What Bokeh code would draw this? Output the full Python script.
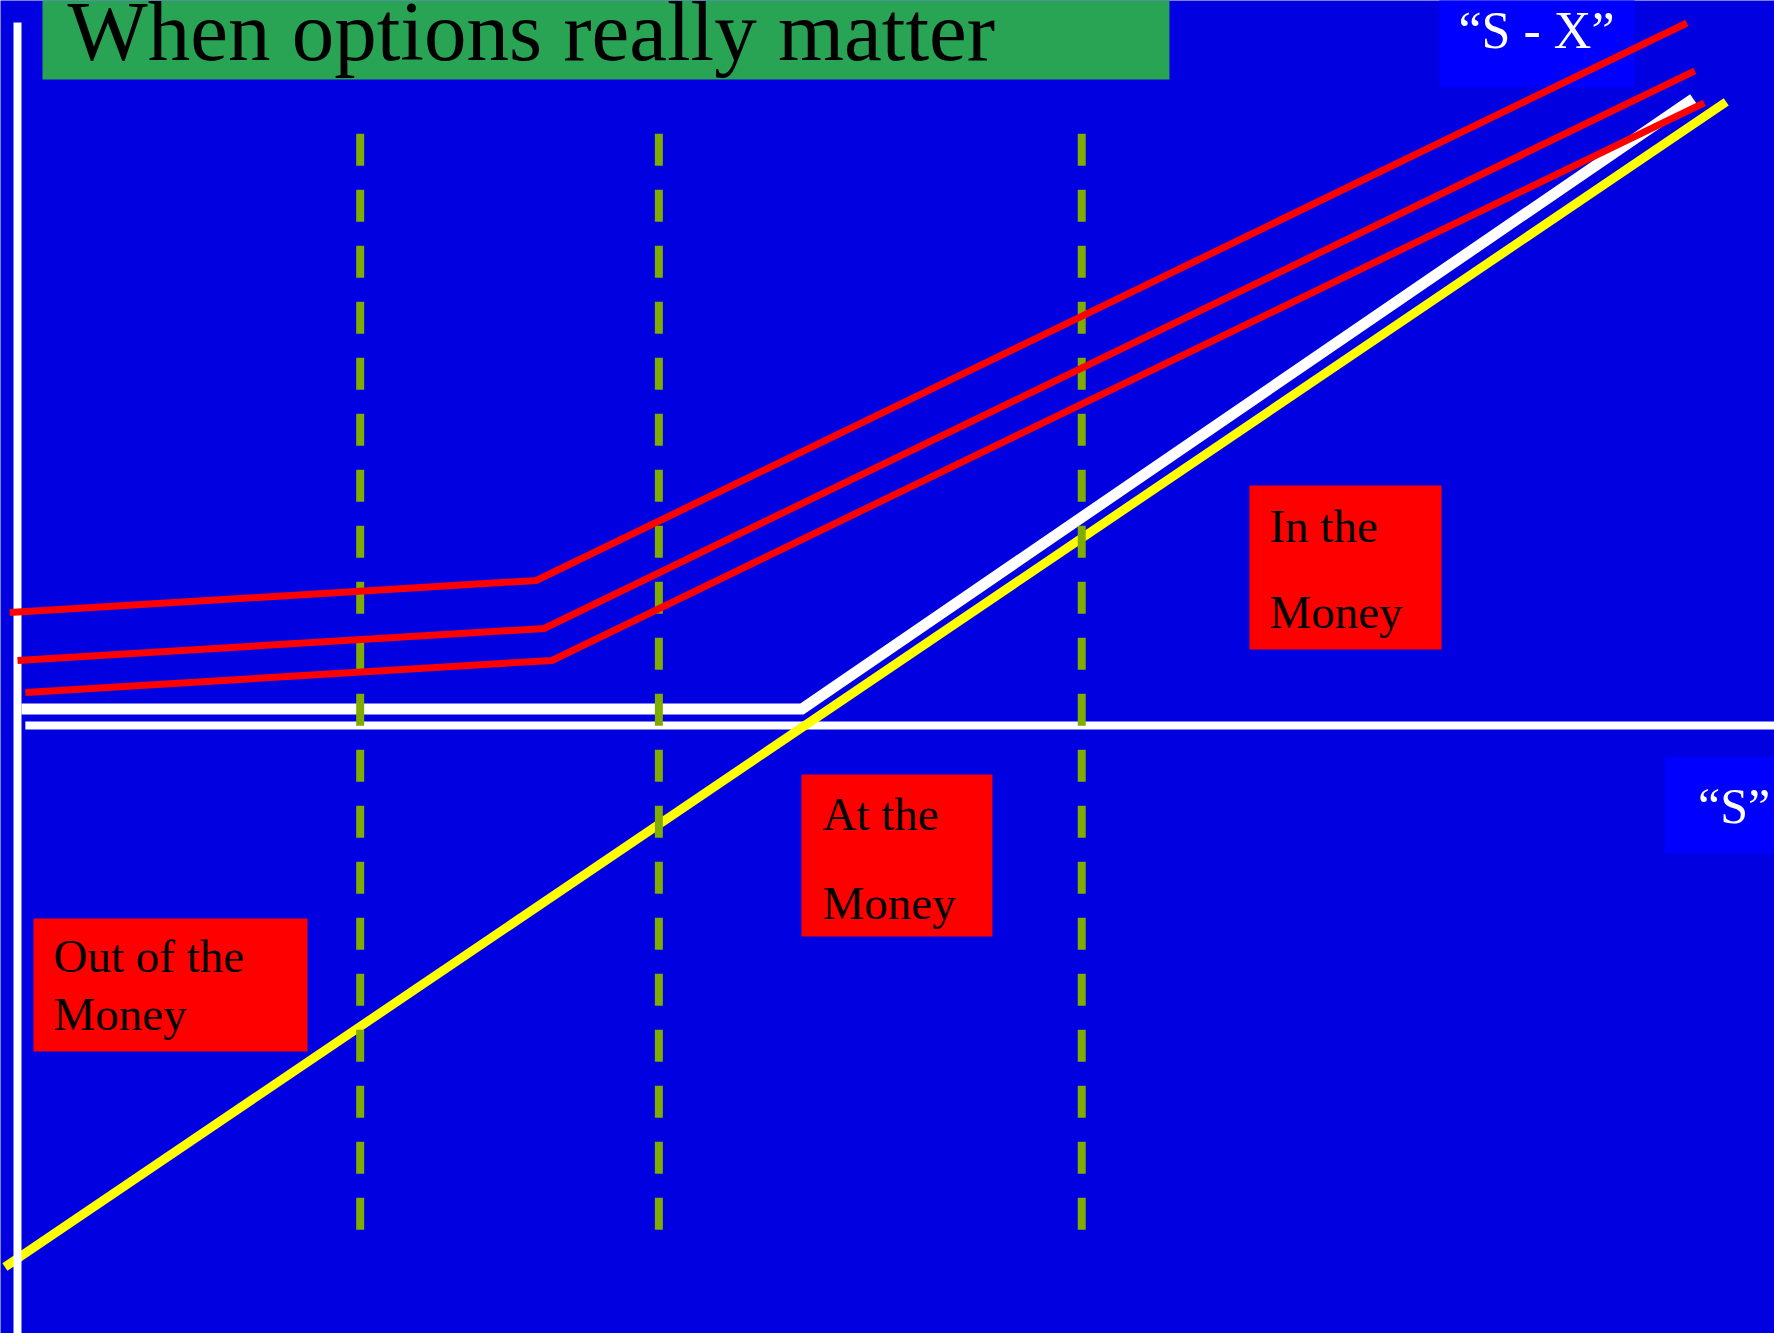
from bokeh.plotting import figure
from bokeh.models import Range1d
from bokeh.core.properties import value
from bokeh.embed import file_html
from bokeh.resources import INLINE

# ---- data (stock price S on x, value on y; strike X = 50) ----
strike = 50
payoff_S = [0.25, 49.9, 106.6]          # white: option payoff max(S-X,0) (drawn slightly lifted)
payoff_V = [1.55, 1.55, 58.8]
intrinsic_S = [-0.8, 108.7]              # yellow: S - X
intrinsic_V = [-50.8, 58.5]
red1_S = [-0.5, 33.0, 106.2]
red1_V = [10.6, 13.6, 65.9]
red2_S = [0.0, 33.5, 106.7]
red2_V = [6.1, 9.1, 61.4]
red3_S = [0.5, 34.0, 107.3]
red3_V = [3.1, 6.1, 58.4]
zone_S = [21.8, 40.8, 67.7]              # dashed zone boundaries
zone_V = [55.5, -47.3]

title = "When options really matter"
label_sx = "\u201cS - X\u201d"
label_s = "\u201cS\u201d"
zones = ["Out of the|Money", "At the|Money", "In the|Money"]

SERIF = value("Liberation Serif")
BG = "#0000E1"
PX_PER_V = 10.66   # vertical pixels per value unit


def lift(font_px):
    # compensate the renderer's baseline placement (value units)
    return 0.34 * font_px / PX_PER_V


p = figure(width=1774, height=1333, x_range=Range1d(-1.081, 111.77),
           y_range=Range1d(-57.04, 68.01), output_backend="svg",
           toolbar_location=None, min_border=0,
           x_axis_location=None, y_axis_location=None)
p.grid.visible = False
p.outline_line_color = None
p.background_fill_color = BG
p.border_fill_color = BG

# horizontal axis
p.line([0.5, 115], [0, 0], line_color="white", line_width=8)
# payoff
p.line(payoff_S, payoff_V, line_color="white", line_width=11, line_join="miter")
# intrinsic value S - X
p.line(intrinsic_S, intrinsic_V, line_color="yellow", line_width=9)
# vertical axis
p.line([0, 0], [65.95, -60], line_color="white", line_width=8)
# dashed zone lines
p.multi_line([[s, s] for s in zone_S], [zone_V for _ in zone_S],
             line_color="#80AC00", line_width=8, line_dash="32 24")

# S - X label box (under the curves)
p.quad(left=[90.46], right=[102.86], bottom=[59.85], top=[70], fill_color="#0000FF", line_color=None)

# option value curves
for xs, ys in [(red1_S, red1_V), (red2_S, red2_V), (red3_S, red3_V)]:
    p.line(xs, ys, line_color="#FF0000", line_width=7, line_join="miter")

# title box
p.quad(left=[1.59], right=[73.28], bottom=[60.6], top=[70], fill_color="#29A354", line_color=None)
p.text(x=[3.18], y=[62.4 + lift(85)], text=[title], text_font=SERIF, text_font_size="85px",
       text_color="black", text_baseline="alphabetic")

# S - X label text
p.text(x=[91.67], y=[63.51 + lift(52)], text=[label_sx], text_font=SERIF, text_font_size="52px",
       text_color="white", text_baseline="alphabetic")

# S label
p.quad(left=[104.77], right=[115], bottom=[-12.01], top=[-2.91], fill_color="#0000FF", line_color=None)
p.text(x=[106.9], y=[-9.19 + lift(50)], text=[label_s], text_font=SERIF, text_font_size="50px",
       text_color="white", text_baseline="alphabetic")

# zone boxes
boxes = [
    (1.02, 18.45, -30.58, -18.11, 2.29, [-23.17, -28.61]),
    (49.87, 62.02, -19.79, -4.60, 51.21, [-9.76, -18.11]),
    (78.37, 90.59, 7.13, 22.51, 79.64, [17.26, 9.19]),
]
for (l, r, b, t, tx, tys), z in zip(boxes, zones):
    p.quad(left=[l], right=[r], bottom=[b], top=[t], fill_color="#FF0000", line_color=None)
    lines = z.split("|")
    p.text(x=[tx] * len(lines), y=[ty + lift(47) for ty in tys], text=lines, text_font=SERIF,
           text_font_size="47px", text_color="black", text_baseline="alphabetic")

open("out.html", "w").write(file_html(p, INLINE))
